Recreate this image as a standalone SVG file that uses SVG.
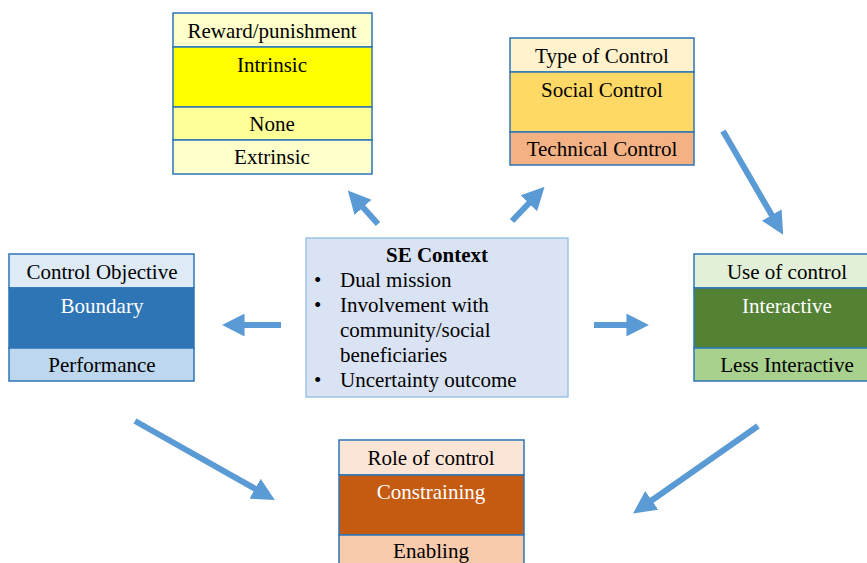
<svg xmlns="http://www.w3.org/2000/svg" width="867" height="563" viewBox="0 0 867 563">
  <style>
    .cell { stroke: #2e75b6; stroke-width: 1.5; }
    .t { font-family: "Liberation Serif", "Times New Roman", serif; font-size: 21px; fill: #000; text-anchor: middle; }
    .tw { fill: #ffffff; }
    .ctx { font-family: "Liberation Serif", "Times New Roman", serif; font-size: 21px; fill: #000; }
    .arrow { stroke: #5b9bd5; stroke-width: 6; fill: none; marker-end: url(#head); }
  </style>
  <defs>
    <marker id="head" viewBox="0 0 10 10" refX="2" refY="5" markerWidth="3.8" markerHeight="3.8" orient="auto" markerUnits="strokeWidth">
      <path d="M0,0 L10,5 L0,10 Z" fill="#5b9bd5"/>
    </marker>
  </defs>
  <rect width="867" height="563" fill="#ffffff"/>

  <g id="reward">
    <rect class="cell" x="173" y="13" width="199" height="34" fill="#ffffcc"/>
    <rect class="cell" x="173" y="47" width="199" height="60" fill="#ffff00"/>
    <rect class="cell" x="173" y="107" width="199" height="33" fill="#ffff99"/>
    <rect class="cell" x="173" y="140" width="199" height="34" fill="#ffffcc"/>
    <text class="t" x="272" y="38">Reward/punishment</text>
    <text class="t" x="272" y="72">Intrinsic</text>
    <text class="t" x="272" y="131">None</text>
    <text class="t" x="272" y="164">Extrinsic</text>
  </g>

  <g id="type">
    <rect class="cell" x="510" y="38" width="184" height="34" fill="#fff2cc"/>
    <rect class="cell" x="510" y="72" width="184" height="60" fill="#ffd966"/>
    <rect class="cell" x="510" y="132" width="184" height="33" fill="#f4b183"/>
    <text class="t" x="602" y="63">Type of Control</text>
    <text class="t" x="602" y="97">Social Control</text>
    <text class="t" x="602" y="156">Technical Control</text>
  </g>

  <g id="objective">
    <rect class="cell" x="9" y="254" width="185" height="34" fill="#deebf7"/>
    <rect class="cell" x="9" y="288" width="185" height="60" fill="#2e75b6"/>
    <rect class="cell" x="9" y="348" width="185" height="33" fill="#bdd7ee"/>
    <text class="t" x="102" y="279">Control Objective</text>
    <text class="t tw" x="102" y="313">Boundary</text>
    <text class="t" x="102" y="372">Performance</text>
  </g>

  <g id="use">
    <rect class="cell" x="694" y="254" width="186" height="34" fill="#e2f0d9"/>
    <rect class="cell" x="694" y="288" width="186" height="60" fill="#548235"/>
    <rect class="cell" x="694" y="348" width="186" height="33" fill="#a9d18e"/>
    <text class="t" x="787" y="279">Use of control</text>
    <text class="t tw" x="787" y="313">Interactive</text>
    <text class="t" x="787" y="372">Less Interactive</text>
  </g>

  <g id="role">
    <rect class="cell" x="339" y="440" width="185" height="35" fill="#fbe5d6"/>
    <rect class="cell" x="339" y="475" width="185" height="60" fill="#c55a11"/>
    <rect class="cell" x="339" y="535" width="185" height="40" fill="#f8cbad"/>
    <text class="t" x="431" y="465">Role of control</text>
    <text class="t tw" x="431" y="499">Constraining</text>
    <text class="t" x="431" y="558">Enabling</text>
  </g>

  <g id="context">
    <rect x="306" y="238" width="262" height="159" fill="#dae3f3" stroke="#9dc3e6" stroke-width="1.5"/>
    <text class="t" x="437" y="262" font-weight="bold">SE Context</text>
    <text class="ctx" x="314" y="287">•</text>
    <text class="ctx" x="340" y="287">Dual mission</text>
    <text class="ctx" x="314" y="312">•</text>
    <text class="ctx" x="340" y="312">Involvement with</text>
    <text class="ctx" x="340" y="337">community/social</text>
    <text class="ctx" x="340" y="362">beneficiaries</text>
    <text class="ctx" x="314" y="387">•</text>
    <text class="ctx" x="340" y="387">Uncertainty outcome</text>
  </g>

  <g id="connectors">
    <line class="arrow" x1="378" y1="224" x2="360" y2="204"/>
    <line class="arrow" x1="512" y1="221" x2="532" y2="200"/>
    <line class="arrow" x1="723" y1="131" x2="774" y2="219"/>
    <line class="arrow" x1="281" y1="325" x2="240" y2="325"/>
    <line class="arrow" x1="594" y1="325" x2="631" y2="325"/>
    <line class="arrow" x1="135" y1="421" x2="259" y2="491"/>
    <line class="arrow" x1="758" y1="426" x2="648" y2="503"/>
  </g>
</svg>
